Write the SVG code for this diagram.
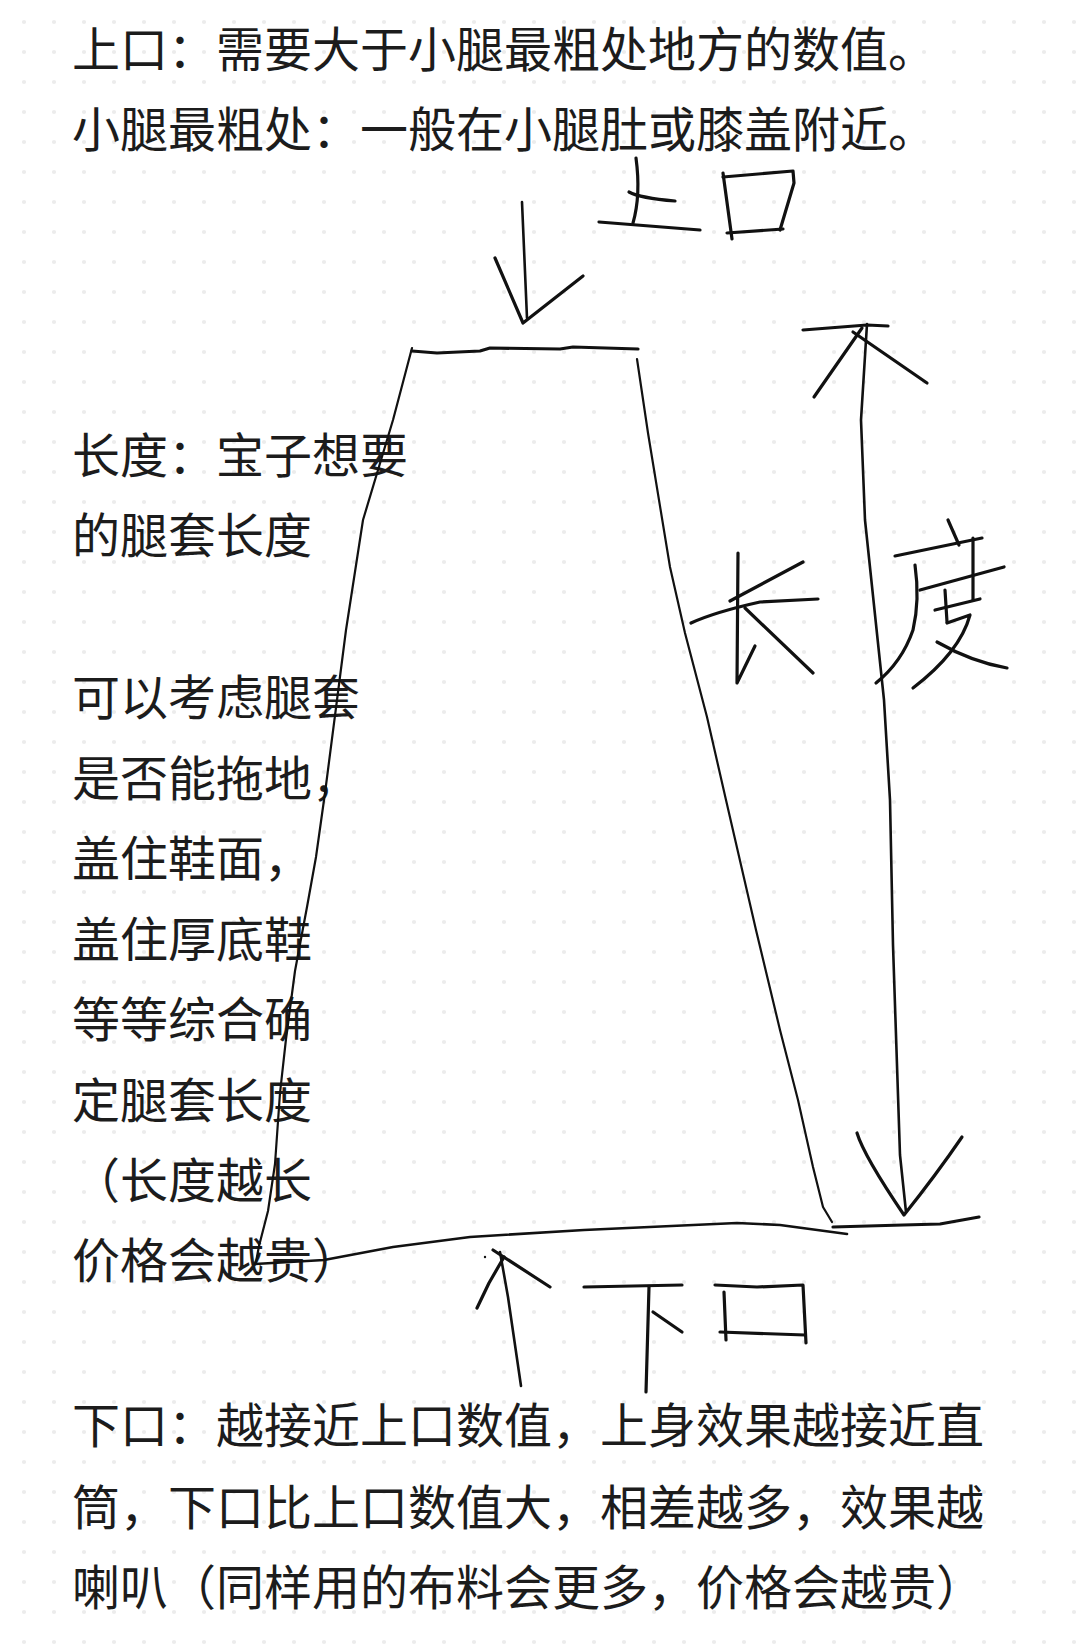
<svg xmlns="http://www.w3.org/2000/svg" width="1080" height="1646" viewBox="0 0 1080 1646">
<defs>
<pattern id="dots" x="0" y="0" width="30" height="30" patternUnits="userSpaceOnUse">
<circle cx="24" cy="22" r="2.1" fill="#ececec"/>
</pattern>
<style>
.t{font-family:"Noto Sans CJK SC","Noto Sans",sans-serif;font-size:48px;fill:#1c1c1c}
.s{fill:none;stroke:#111;stroke-width:2.6;stroke-linecap:round;stroke-linejoin:round}
.k{fill:none;stroke:#111;stroke-width:3.2;stroke-linecap:round;stroke-linejoin:round}
.n{fill:none;stroke:#111;stroke-width:2.2;stroke-linecap:round;stroke-linejoin:round}
</style>
</defs>
<rect id="paper" x="0" y="0" width="1080" height="1646" fill="#ffffff"/>
<rect id="grid" x="0" y="0" width="1080" height="1646" fill="url(#dots)"/>

<g id="notes-top">
<text class="t" x="72" y="67">上口：需要大于小腿最粗处地方的数值。</text>
<text class="t" x="72" y="147">小腿最粗处：一般在小腿肚或膝盖附近。</text>
</g>

<g id="notes-length">
<text class="t" x="72" y="473">长度：宝子想要</text>
<text class="t" x="72" y="553">的腿套长度</text>
<text class="t" x="72" y="715">可以考虑腿套</text>
<text class="t" x="72" y="796">是否能拖地，</text>
<text class="t" x="72" y="876">盖住鞋面，</text>
<text class="t" x="72" y="957">盖住厚底鞋</text>
<text class="t" x="72" y="1037">等等综合确</text>
<text class="t" x="72" y="1118">定腿套长度</text>
<text class="t" x="72" y="1198">（长度越长</text>
<text class="t" x="72" y="1278">价格会越贵）</text>
</g>

<g id="notes-bottom">
<text class="t" x="72" y="1443">下口：越接近上口数值，上身效果越接近直</text>
<text class="t" x="72" y="1525">筒，下口比上口数值大，相差越多，效果越</text>
<text class="t" x="72" y="1605">喇叭（同样用的布料会更多，价格会越贵）</text>
</g>

<g id="legwarmer-outline">
<path class="k" d="M412,351 L437,353 L480,351 L490,348 L560,349 L573,347 L638,349"/>
<path class="n" d="M412,348 L393,420 L363,520 L346,630 L337,700 L325,793 L316,857 L307,907 L295,971 L286,1039 L280,1093 L275,1164 L268,1211 L259,1246 L256,1262"/>
<path class="n" d="M637,359 L648,433 L670,567 L685,633 L707,717 L726,800 L756,930 L780,1030 L798,1100 L813,1167 L823,1207 L832,1222"/>
<path class="s" d="M255,1264 L324,1260 L393,1247 L470,1237 L584,1230 L737,1223 L780,1225 L847,1234"/>
<path class="k" d="M833,1227 L903,1225 L940,1224 L979,1217"/>
</g>

<g id="label-top-opening">
<path class="s" d="M522,202 L527,318"/>
<path class="k" d="M495,258 L523,323 L583,276"/>
<path class="k" d="M636,158 Q641,195 633,223"/>
<path class="k" d="M629,192 Q640,198 675,201"/>
<path class="k" d="M599,222 L700,230"/>
<path class="k" d="M723,173 L732,239"/>
<path class="k" d="M723,177 L793,171 L794,183 L780,230"/>
<path class="k" d="M727,233 L783,229"/>
</g>

<g id="label-length">
<path class="k" d="M803,330 L867,325 L888,326"/>
<path class="s" d="M867,324 L861,420 L865,520 L884,700 L890,800 L893,945 L900,1155 L906,1212"/>
<path class="k" d="M862,328 L814,397"/>
<path class="k" d="M853,332 L927,383"/>
<path class="k" d="M857,1133 Q864,1156 904,1215 Q936,1175 962,1137"/>
<path class="k" d="M738,553 L737,683 L755,646"/>
<path class="k" d="M730,601 L803,562"/>
<path class="k" d="M691,623 Q715,612 760,602 L818,599"/>
<path class="k" d="M745,608 L813,673"/>
<path class="k" d="M948,520 L959,545"/>
<path class="k" d="M895,556 L982,538"/>
<path class="k" d="M915,565 Q920,600 913,630 Q902,662 876,683"/>
<path class="k" d="M920,590 L1004,567"/>
<path class="k" d="M973,538 L973,600"/>
<path class="k" d="M945,590 L947,622"/>
<path class="k" d="M935,610 L980,599"/>
<path class="k" d="M947,623 L970,615 Q960,652 913,688"/>
<path class="k" d="M937,642 Q972,662 1007,668"/>
</g>

<g id="label-bottom-opening">
<path class="s" d="M500,1252 L508,1297 L521,1386"/>
<path class="k" d="M477,1308 L489,1283 L504,1257"/>
<path class="k" d="M493,1250 L550,1287"/>
<circle cx="485" cy="1257" r="1.2" fill="#111"/>
<path class="k" d="M584,1287 L682,1285"/>
<path class="k" d="M649,1287 L646,1392"/>
<path class="k" d="M653,1312 L682,1332"/>
<path class="k" d="M724,1292 L726,1340"/>
<path class="k" d="M715,1285 L757,1287 L803,1285 L806,1343"/>
<path class="k" d="M720,1332 L805,1335"/>
</g>
</svg>
